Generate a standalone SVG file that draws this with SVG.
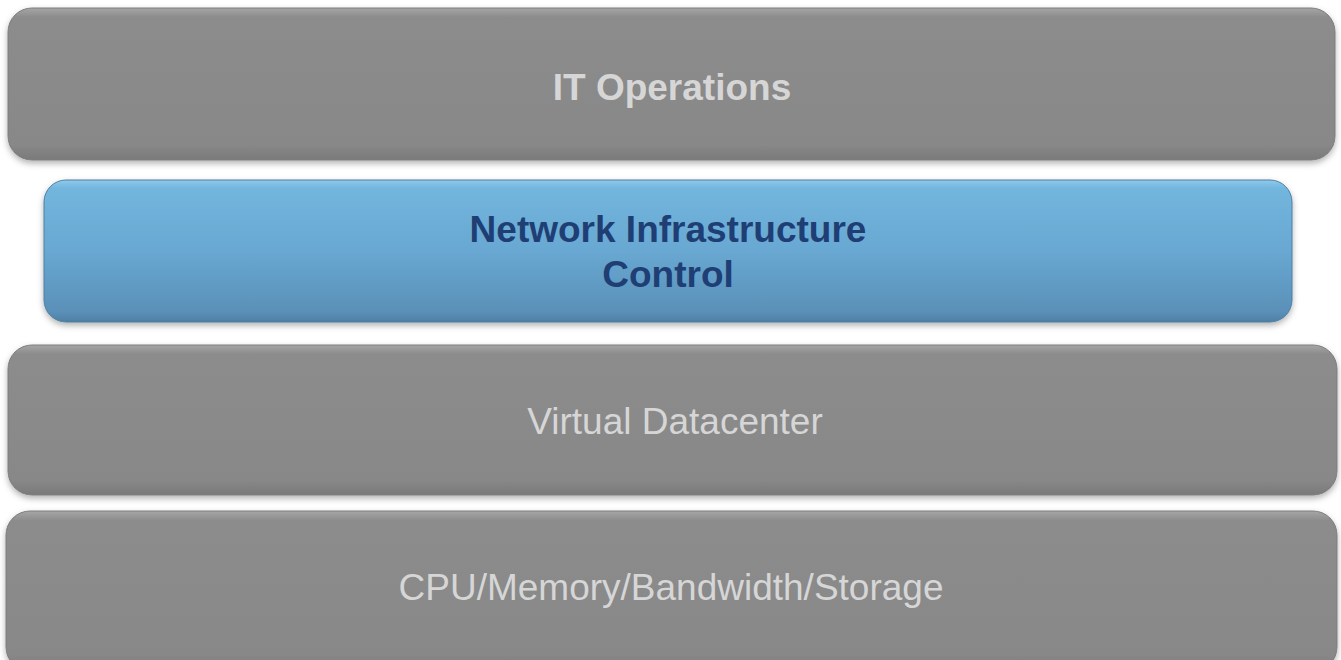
<svg xmlns="http://www.w3.org/2000/svg" width="1341" height="660" viewBox="0 0 1341 660">
<defs>
<linearGradient id="gGrey" x1="0" y1="0" x2="0" y2="1">
<stop offset="0" stop-color="#a6a6a6"/>
<stop offset="0.06" stop-color="#8c8c8c"/>
<stop offset="0.9" stop-color="#888888"/>
<stop offset="1" stop-color="#7a7a7a"/>
</linearGradient>
<linearGradient id="gBlue" x1="0" y1="0" x2="0" y2="1">
<stop offset="0" stop-color="#8fcaea"/>
<stop offset="0.06" stop-color="#72b5dd"/>
<stop offset="0.5" stop-color="#68a8d2"/>
<stop offset="0.93" stop-color="#5a90b8"/>
<stop offset="1" stop-color="#4f7fa3"/>
</linearGradient>
<filter id="sh" x="-5%" y="-10%" width="110%" height="125%">
<feDropShadow dx="0" dy="3" stdDeviation="3" flood-color="#000" flood-opacity="0.3"/>
</filter>
</defs>
<style>
.grey{fill:url(#gGrey);stroke:#7d7d7d;stroke-width:1;filter:url(#sh)}
.blue{fill:url(#gBlue);stroke:#4d7fa3;stroke-width:1;filter:url(#sh)}
.t{font-family:"Liberation Sans",Arial,sans-serif;font-size:37px;text-anchor:middle}
.lg{fill:#d6d6d6}
.b{font-weight:bold}
.db{fill:#1f3e74}
</style>
<rect width="1341" height="660" fill="#ffffff"/>
<g id="it-operations">
<rect class="grey" x="8" y="8" width="1327" height="152" rx="24"/>
<text class="t b lg" x="672" y="100">IT Operations</text>
</g>
<g id="network-infrastructure-control">
<rect class="blue" x="44" y="180" width="1248" height="142" rx="22"/>
<text class="t b db" x="668" y="242">Network Infrastructure</text>
<text class="t b db" x="668" y="287">Control</text>
</g>
<g id="virtual-datacenter">
<rect class="grey" x="8" y="345" width="1329" height="150" rx="24"/>
<text class="t lg" x="675" y="434">Virtual Datacenter</text>
</g>
<g id="cpu-memory">
<rect class="grey" x="6" y="511" width="1331" height="160" rx="24"/>
<text class="t lg" x="671" y="600">CPU/Memory/Bandwidth/Storage</text>
</g>
<g id="connectors"></g>
</svg>
